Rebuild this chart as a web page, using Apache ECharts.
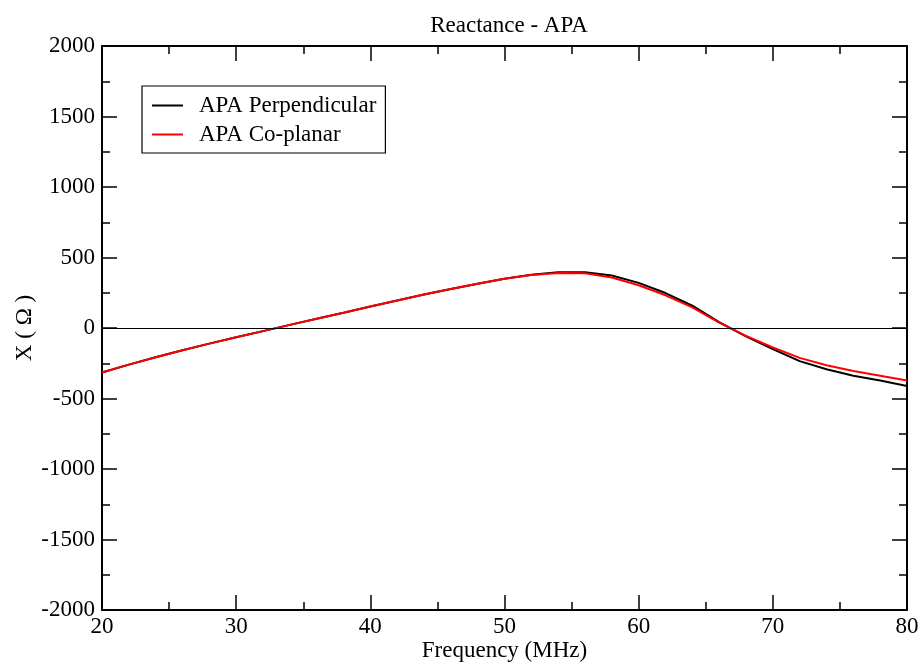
<!DOCTYPE html>
<html>
<head>
<meta charset="utf-8">
<script src="https://cdn.jsdelivr.net/npm/echarts@6/dist/echarts.min.js"></script>
<style>html,body{margin:0;padding:0;background:#fff;}#c{width:919px;height:662px;}</style>
</head>
<body>
<div id="c"></div>
<script>
const freq = [20,22,24,26,28,30,32,34,36,38,40,42,44,46,48,50,52,54,56,58,60,62,64,66,68,70,72,74,76,78,80];
const perpendicular = [-315,-260,-208,-158,-111,-66,-22,22,65,108,152,195,237,276,314,350,378,395,396,372,320,248,158,42,-60,-150,-235,-292,-338,-373,-411];
const coplanar = [-315,-260,-208,-158,-111,-66,-22,22,65,108,152,195,237,276,314,350,376,390,388,358,303,232,146,38,-56,-138,-212,-264,-305,-338,-373];
const seriesNames = ['APA Perpendicular','APA Co-planar'];
const titleText = 'Reactance - APA';
const xName = 'Frequency (MHz)';
const yName = 'X ( \u03A9 )';

const FONT = '"Liberation Serif", "DejaVu Serif", serif';
const FS = 23;
const pairs = (ys) => freq.map((f, i) => [f, ys[i]]);
const plain = (v) => String(v);

const axisCommon = {
  axisLine: { show: true, onZero: false, lineStyle: { color: '#000', width: 2 } },
  axisTick: { show: true, inside: true, length: 15, lineStyle: { color: '#000', width: 1.5 } },
  minorTick: { show: true, splitNumber: 2, length: 8, lineStyle: { color: '#000', width: 1.5 } },
  splitLine: { show: false },
  minorSplitLine: { show: false }
};

const chart = echarts.init(document.getElementById('c'), null, { renderer: 'canvas' });
chart.setOption({
  animation: false,
  backgroundColor: '#fff',
  title: {
    text: titleText, left: 504, top: 9, textAlign: 'center',
    textStyle: { fontFamily: FONT, fontSize: FS, fontWeight: 'normal', color: '#000' }
  },
  legend: {
    left: 142, top: 86, orient: 'vertical',
    borderColor: '#000', borderWidth: 1.2, padding: [8, 9, 7, 10],
    itemWidth: 31, itemHeight: 2, itemGap: 6, icon: 'rect',
    textStyle: { fontFamily: FONT, fontSize: FS, color: '#000', lineHeight: 22, padding: [0, 0, 0, 11] },
    data: seriesNames
  },
  grid: { left: 102, right: 12, top: 46, bottom: 52, containLabel: false, outerBoundsMode: 'none' },
  xAxis: [
    Object.assign({}, axisCommon, {
      type: 'value', min: 20, max: 80, interval: 10, position: 'bottom',
      name: xName, nameLocation: 'middle', nameGap: 29, nameMoveOverlap: false,
      nameTextStyle: { fontFamily: FONT, fontSize: FS, color: '#000' },
      axisLabel: { fontFamily: FONT, fontSize: FS, color: '#000', margin: 5, formatter: plain }
    }),
    Object.assign({}, axisCommon, {
      type: 'value', min: 20, max: 80, interval: 10, position: 'top',
      axisLabel: { show: false }
    })
  ],
  yAxis: [
    Object.assign({}, axisCommon, {
      type: 'value', min: -2000, max: 2000, interval: 500, position: 'left',
      name: yName, nameLocation: 'middle', nameGap: 66, nameRotate: 90, nameMoveOverlap: false,
      nameTextStyle: { fontFamily: FONT, fontSize: FS, color: '#000' },
      axisLabel: { fontFamily: FONT, fontSize: FS, color: '#000', margin: 7, formatter: plain }
    }),
    Object.assign({}, axisCommon, {
      type: 'value', min: -2000, max: 2000, interval: 500, position: 'right',
      axisLabel: { show: false }
    })
  ],
  series: [
    {
      name: seriesNames[0], type: 'line', data: pairs(perpendicular),
      showSymbol: false, symbol: 'none', color: '#000',
      lineStyle: { color: '#000', width: 2 },
      markLine: {
        silent: true, symbol: 'none', label: { show: false },
        lineStyle: { color: '#000', width: 1.2, type: 'solid' },
        data: [{ yAxis: 0 }]
      },
      z: 2
    },
    {
      name: seriesNames[1], type: 'line', data: pairs(coplanar),
      showSymbol: false, symbol: 'none', color: '#ff0000',
      lineStyle: { color: '#ff0000', width: 2 },
      z: 3
    }
  ]
});
</script>
</body>
</html>
